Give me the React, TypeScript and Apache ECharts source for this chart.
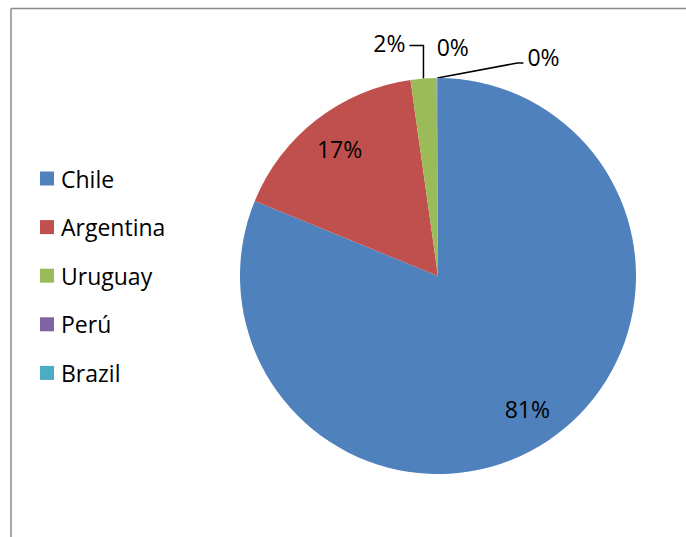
import React, { useEffect, useRef } from "react";
import * as echarts from "echarts";

const categories = ["Chile", "Argentina", "Uruguay", "Perú", "Brazil"];
const values = [81.2, 16.6, 2.1, 0.02, 0.1];
const colors = ["#4F81BD", "#C0504D", "#9BBB59", "#8064A2", "#4BACC6"];

const FONT = "'Open Sans', 'Noto Sans', sans-serif";
const FS = 23;
const CX = 438;
const CY = 276;
const R = 198;

export default function App() {
  const ref = useRef<HTMLDivElement>(null);
  useEffect(() => {
    document.body.style.margin = "0";
    document.body.style.overflow = "hidden";
    if (!ref.current) return;
    const chart = echarts.init(ref.current, undefined, { renderer: "svg" });
    const total = values.reduce((a, b) => a + b, 0);
    const mids: number[] = [];
    let cum = 0;
    values.forEach((v) => {
      mids.push(((cum + v / 2) / total) * Math.PI * 2);
      cum += v;
    });
    const data = categories.map((name, i) => ({
      name,
      value: values[i],
      itemStyle: { color: colors[i] },
      label: { position: i < 2 ? "inside" : "outside" },
      labelLine: { show: i === 2 || i === 4 },
    }));
    const frameStyle = { stroke: "#8a8a8a", lineWidth: 1.5 };
    chart.setOption({
      animation: false,
      graphic: [
        {
          type: "line",
          shape: { x1: 11, y1: 8.5, x2: 686, y2: 8.5 },
          style: frameStyle,
          silent: true,
          z: -10,
        },
        {
          type: "line",
          shape: { x1: 11, y1: 8.5, x2: 11, y2: 537 },
          style: frameStyle,
          silent: true,
          z: -10,
        },
      ],
      legend: {
        orient: "vertical",
        left: 40,
        top: 167,
        padding: 0,
        itemWidth: 14,
        itemHeight: 14,
        itemGap: 25.6,
        icon: "rect",
        data: categories,
        textStyle: {
          fontFamily: FONT,
          fontSize: FS,
          color: "#000",
          lineHeight: 23,
          padding: [0, 0, 0, 2],
        },
      },
      series: [
        {
          type: "pie",
          center: [CX, CY],
          radius: R,
          startAngle: 90,
          clockwise: true,
          avoidLabelOverlap: false,
          data,
          label: {
            color: "#000",
            fontFamily: FONT,
            fontSize: FS,
            formatter: (p: any) => Math.round(p.percent) + "%",
          },
          labelLine: {
            lineStyle: { color: "#000", width: 1.5 },
          },
          labelLayout: (p: any) => {
            const i = p.dataIndex;
            const a = mids[i];
            const ex = CX + R * Math.sin(a);
            const ey = CY - R * Math.cos(a);
            if (i < 2) {
              return {
                x: CX + 0.81 * R * Math.sin(a),
                y: CY - 0.81 * R * Math.cos(a),
                align: "center",
                verticalAlign: "middle",
              };
            }
            if (i === 2) {
              const y1 = ey - 33;
              return {
                x: ex - 18,
                y: y1 - 3,
                align: "right",
                verticalAlign: "middle",
                labelLinePoints: [
                  [ex, ey],
                  [ex, y1],
                  [ex - 14, y1],
                ],
              };
            }
            if (i === 3) {
              return { x: ex, y: ey - 31, align: "left", verticalAlign: "middle" };
            }
            const y1 = ey - 15;
            return {
              x: ex + 90,
              y: y1 - 6,
              align: "left",
              verticalAlign: "middle",
              labelLinePoints: [
                [ex, ey],
                [ex + 80, y1],
                [ex + 86, y1],
              ],
            };
          },
        },
      ],
    });
    return () => chart.dispose();
  }, []);
  return <div ref={ref} style={{ width: 686, height: 537 }} />;
}
